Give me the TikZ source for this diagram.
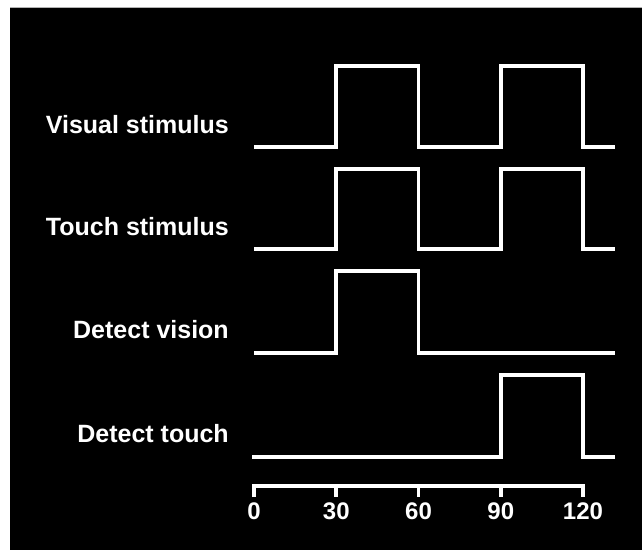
\documentclass[tikz,border=0pt]{standalone}
\usepackage{fontspec}
\setmainfont{Liberation Sans}
\begin{document}
\begin{tikzpicture}[x=1pt,y=1pt,
  wave/.style={white,line width=3.6pt,line join=miter},
  lbl/.style={text=white,font=\fontsize{25}{30}\selectfont\bfseries,inner sep=0pt,anchor=base east},
  num/.style={text=white,font=\fontsize{24}{28}\selectfont\bfseries,inner sep=0pt,anchor=base}]
\useasboundingbox (0,0) rectangle (642,550);
\fill[white] (0,0) rectangle (642,550);
\fill[black] (10,0) rectangle (642,542.5);
\draw[gray!60,line width=0.6pt] (10,542.5) -- (642,542.5);
% time -> x : 254 + 2.7417 t
\def\ta{254}\def\tb{336.25}\def\tc{418.5}\def\td{500.75}\def\te{583}\def\tf{615}
% labels
\node[lbl] (vis) at (229,417) {Visual stimulus};
\node[lbl] (tch) at (229,315) {Touch stimulus};
\node[lbl] (dv) at (229,212) {Detect vision};
\node[lbl] (dt) at (229,108) {Detect touch};
% waves
\draw[wave] (\ta,403) -- (\tb,403) -- (\tb,484) -- (\tc,484) -- (\tc,403) -- (\td,403) -- (\td,484) -- (\te,484) -- (\te,403) -- (\tf,403);
\draw[wave] (\ta,301) -- (\tb,301) -- (\tb,381) -- (\tc,381) -- (\tc,301) -- (\td,301) -- (\td,381) -- (\te,381) -- (\te,301) -- (\tf,301);
\draw[wave] (\ta,197) -- (\tb,197) -- (\tb,279) -- (\tc,279) -- (\tc,197) -- (\tf,197);
\draw[wave] (252,93) -- (\td,93) -- (\td,175) -- (\te,175) -- (\te,93) -- (\tf,93);
% axis
\draw[wave] (\ta,53) -- (\ta,64) -- (\te,64) -- (\te,53);
\foreach \x in {\tb,\tc,\td} \draw[wave] (\x,64) -- (\x,53);
\node[num] (n0) at (\ta,31) {0};
\node[num] (n30) at (\tb,31) {30};
\node[num] (n60) at (\tc,31) {60};
\node[num] (n90) at (\td,31) {90};
\node[num] (n120) at (\te,31) {120};
\end{tikzpicture}
\end{document}
